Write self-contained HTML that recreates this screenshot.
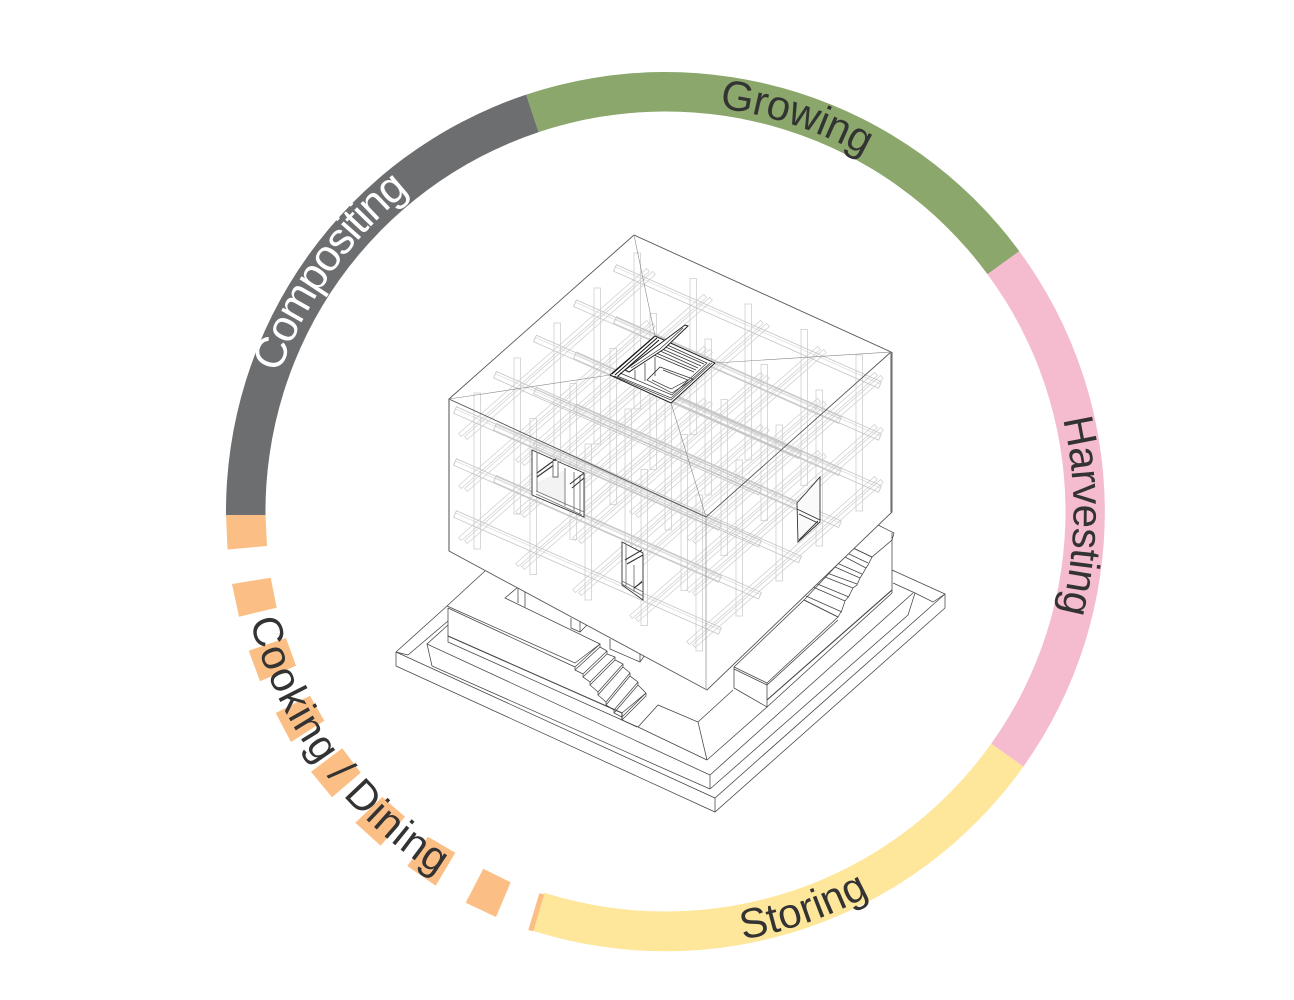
<!DOCTYPE html>
<html><head><meta charset="utf-8"><style>
html,body{margin:0;padding:0;background:#fff}
svg{display:block}
text{font-family:"Liberation Sans",sans-serif;font-size:42px}
</style></head><body>
<svg width="1294" height="1000" viewBox="0 0 1294 1000" xmlns="http://www.w3.org/2000/svg">
<defs>
<path id="tG" d="M719.3,108.1 A407 407 0 0 1 975.7,247"/>
<path id="tC" d="M279.5,373.3 A410 410 0 0 1 525.3,126.2"/>
<path id="tH" d="M1062.9,419 A408 408 0 0 1 999.7,745.5"/>
<path id="tS" d="M742.9,939.5 A435 435 0 0 0 998.7,791"/>
<path id="tD" d="M250,621 A429 429 0 0 0 665.5,940.5"/>
<g id="u0">
<polygon points="616.4,264.8 881.4,381.8 878.6,388.2 613.6,271.2"/>
<line x1="615.4" y1="267" x2="880.4" y2="384" stroke-opacity=".55"/>
</g>
<g id="Ur">
<use href="#u0"/>
<use href="#u0" transform="translate(-40,35.25)"/>
<use href="#u0" transform="translate(-80,70.5)"/>
<use href="#u0" transform="translate(-120,106.75)"/>
<use href="#u0" transform="translate(-160,142)"/>
</g>
<g id="U"><use href="#Ur"/><use href="#Ur" transform="translate(0,52)"/><use href="#Ur" transform="translate(0,104)"/></g>
<g id="v0">
<polygon points="461.3,436.5 649.3,271.5 646.7,268.5 458.7,433.5"/>
<polygon points="467.3,439.5 655.3,274.5 652.7,271.5 464.7,436.5"/>
</g>
<g id="Vr">
<use href="#v0"/>
<use href="#v0" transform="translate(57,26)"/>
<use href="#v0" transform="translate(114,52)"/>
<use href="#v0" transform="translate(171,78)"/>
<use href="#v0" transform="translate(228,104)"/>
</g>
<g id="V"><use href="#Vr"/><use href="#Vr" transform="translate(0,52)"/><use href="#Vr" transform="translate(0,104)"/></g>
<g id="Pr">
<rect x="474" y="393" width="6.5" height="156"/>
<rect x="514" y="358" width="6.5" height="156"/>
<rect x="554" y="323" width="6.5" height="156"/>
<rect x="594" y="288" width="6.5" height="156"/>
<rect x="634" y="253" width="6.5" height="156"/>
</g>
<g id="P">
<use href="#Pr"/>
<use href="#Pr" transform="translate(56,25.5)"/>
<use href="#Pr" transform="translate(111,51)"/>
<use href="#Pr" transform="translate(167,76.5)"/>
<use href="#Pr" transform="translate(222,102)"/>
</g>
</defs>

<!-- ring -->
<path fill="#6d6e70" d="M226,516 A439.5 439.5 0 0 1 526.2,94.6 L538.7,132.1 A400 400 0 0 0 265.5,516 Z"/>
<path fill="#8ba76c" d="M526.2,94.6 A439.5 439.5 0 0 1 1019.3,251.2 L987.5,274.2 A400 400 0 0 0 538.7,132.1 Z"/>
<path fill="#f5bccf" d="M1019.3,251.2 A439.5 439.5 0 0 1 1023.4,766.6 L991.2,743.7 A400 400 0 0 0 987.5,274.2 Z"/>
<path fill="#fee69b" d="M1023.4,766.6 A439.5 439.5 0 0 1 533.1,930.9 L544.3,892.7 A400 400 0 0 0 991.2,743.7 Z"/>
<g fill="#fbbf85">
<polygon points="226,515 265.5,515 267,546 227.5,549.5"/>
<polygon points="232,584 270.7,577.7 276.7,607.7 239,616.7"/>
<polygon points="248.7,650.7 286,638 296,665.7 260,681.3"/>
<polygon points="275.7,713 310,695.7 324.3,720.7 291,742"/>
<polygon points="311,771.7 342.3,748.3 360.7,772.7 332,797.3"/>
<polygon points="355.3,822.7 382.3,797 405,816.7 380.7,845.7"/>
<polygon points="407.3,866 428,836.7 455.3,852.7 435.7,885.7"/>
<polygon points="465.7,902.7 483.3,868.7 510.7,882.3 496,917"/>
<polygon points="528.3,930 539.3,893.3 544.3,894.3 533.3,931.3"/>
</g>

<!-- ring labels -->
<text fill="#333" letter-spacing="-0.5"><textPath href="#tG">Growing</textPath></text>
<text fill="#fff" style="font-size:44px" letter-spacing="-1.8"><textPath href="#tC">Compositing</textPath></text>
<text fill="#333" letter-spacing="-0.6"><textPath href="#tH">Harvesting</textPath></text>
<text fill="#333" letter-spacing="0.3"><textPath href="#tS">Storing</textPath></text>
<text fill="#333" letter-spacing="1"><textPath href="#tD">Cooking / Dining</textPath></text>

<!-- base -->
<g fill="none" stroke="#444" stroke-width=".75">
<path d="M396,652 L396,666 L715,812 L945,608 L945,594 L892,570"/>
<path d="M396,652 L715,798 L945,594"/>
<path d="M715,798 V812"/>
<path d="M396,652 L447,606 L485,571"/>
<path d="M408,655 L448,621 M427,644 L448,625"/>
<path d="M396,652 L408,655"/>
<path d="M710,789 V775 L427,644 L432,666 L710,789"/>
<path d="M710,789 L908,615 L915,593 L893,583 M710,775 L913,593"/>
<path d="M915,593 L933,602 L945,594"/>
<path d="M707,760 L698,722 L658,705 L638,727 L622,720 L448,642 V608"/>
<path d="M638,727 L707,760"/>
<path d="M707,760 L767,707 L892,593 V533"/>
<path d="M698,722 L733,690"/>
<path d="M447,606 L575,663 L600,644 L505,598 L518,587 L600,628"/>
<path d="M448,608 L575,667"/>
<path d="M518,588 V603 M525,592 V607"/>
<path d="M448,636 L622,713 V720" stroke-width="1.1"/>
<!-- right bench -->
<path d="M734,667 V688 L767,707 V683 L734,667 L804,600 L838,617 L767,683"/>
<path d="M734,669 L767,685 L838,620"/>
<path d="M767,700 L892,590" stroke-width="1.1"/>
<path d="M892,512 L878,525 L894,533 L892,540 L872,557 L853,548 L878,525"/>
<path d="M804,600 L853,548"/>
<!-- right stairs -->
<path d="M853,548 L872,557 L868,565 L866,568 L862,575 L860,578 L857,585 L853,588 L849,596 L845,601 L842,610 L838,617"/>
<path d="M845,557 L866,568 M847,553 L868,563 M835,567 L860,578 M837,563 L862,574 M825,577 L853,588 M827,573 L857,584 M813,587 L845,601 M815,583 L849,597 M804,600 L838,617 M806,596 L842,612"/>
<!-- front stairs -->
<path d="M575,667 L575,670 L583,674 L583,677 L590,682 L590,685 L598,692 L598,695 L606,702 L606,705 L614,710 L614,713 L622,717 L622,720 L646,696 L646,693 L638,685 L638,682 L630,676 L630,673 L623,667 L623,664 L615,660 L615,657 L607,654 L607,651 L600,647 V644"/>
<path d="M575,667 L600,644 M575,670 L600,647 M583,674 L607,651 M583,677 L607,654 M590,682 L615,657 M590,685 L615,660 M598,692 L623,664 M598,695 L623,667 M606,702 L630,673 M606,705 L630,676 M614,710 L638,682 M614,713 L638,685 M622,717 L646,693"/>
<path d="M622,713 L646,693 M622,720 L637,727"/>
<!-- small stubs under the cube -->
<path d="M571,618 V628 L580,632 L590,622 M580,622 V632"/>
<path d="M610,639 V649 L640,662 L645,655 M640,652 V662"/>
</g>

<!-- cube body -->
<polygon fill="#fff" points="449,399 634,235 891,352 892,512 707,690 449,551"/>

<!-- timber frame -->
<g fill="none" stroke-width=".8">
<use href="#V" stroke="#d2d2d2"/>
<use href="#P" stroke="#cfcfcf"/>
<use href="#U" stroke="#c4c4c4"/>
</g>

<!-- windows -->
<g stroke="#333" stroke-width=".9" fill="none">
<polygon fill="#fff" points="532,450 584,473 584,517 532,495"/>
<polygon fill="#f3f3f3" stroke="none" points="537,482 565,470 565,505 537,492"/>
<path d="M537,452 V492 M536,491 L584,512 M536,494 L582,515 M565,468 V506 M574,472 V511 M580,475 V514" stroke="#777"/>
<path d="M537,473 L556,459 M537,477 L558,462 M570,484 L584,473 M572,488 L584,478" stroke-width="1.1"/>
<path d="M553,461 V477 H558 V461" stroke="#666" fill="#fff"/>
<polygon fill="#fff" points="622,542 643,553 643,600 622,585"/>
<path d="M626,544 V586 M622,581 L643,592 M622,584 L643,596 M634,565 V592 M638,585 L642,581" stroke="#777"/>
<path d="M625,560 L642,550 M627,564 L643,555 M634,588 L642,582" stroke-width="1.1"/>
<polygon fill="#fafafa" points="797,503 820,477 820,522 798,542"/>
<path d="M797,509 L820,520 M799,514 L818,523 M799,540 L818,521"/>
</g>

<!-- skylight -->
<g fill="none" stroke="#333" stroke-width=".7">
<polygon fill="#fff" points="610,375 655,336 715,363 671,403" stroke="#222" stroke-width="1"/>
<path d="M614,376 L671,400 L712,363 M617,376 L671,398 L710,363 M620,373 L672,395 L707,363 L663,343"/>
<path d="M661,345 L704,364 M660,348 L701,366 M658,350 L698,368 M656,353 L696,370 M654,355 L694,372"/>
<path d="M660,367 L693,379 L672,393 L647,380 Z"/>
<path d="M663,370 L688,380 L671,389 L652,380"/>
<path d="M635,370 V379 M645,363 V381 M655,357 V376 M647,380 L660,367"/>
<path d="M612,374 L654,337 M615,375 L657,338 M618,376 L659,340" stroke="#111" stroke-width="1"/>
<path d="M625,370 L685,325 L688,326 L664,349 L629,372 Z" fill="#fff" stroke="#222" stroke-width="1"/>
<path d="M631,368 L660,349 L683,328"/>
</g>

<!-- cube outline -->
<g fill="none" stroke="#555" stroke-width=".9">
<path d="M449,399 L634,235 L891,352 L706,517 Z"/>
<path d="M449,399 V551 L707,690 L892,512 V352"/>
<path d="M706,517 V690" stroke="#888" stroke-width=".7"/>
<path d="M449,399 V551" stroke="#777" stroke-width="1.3"/>
<path d="M891,352 V512" stroke="#777" stroke-width="1.2"/>
</g>
<g fill="none" stroke="#888" stroke-width=".6">
<path d="M634,235 L655,336 M449,399 L610,375 M891,352 L715,363 M706,517 L671,403"/>
</g>
</svg>
</body></html>
